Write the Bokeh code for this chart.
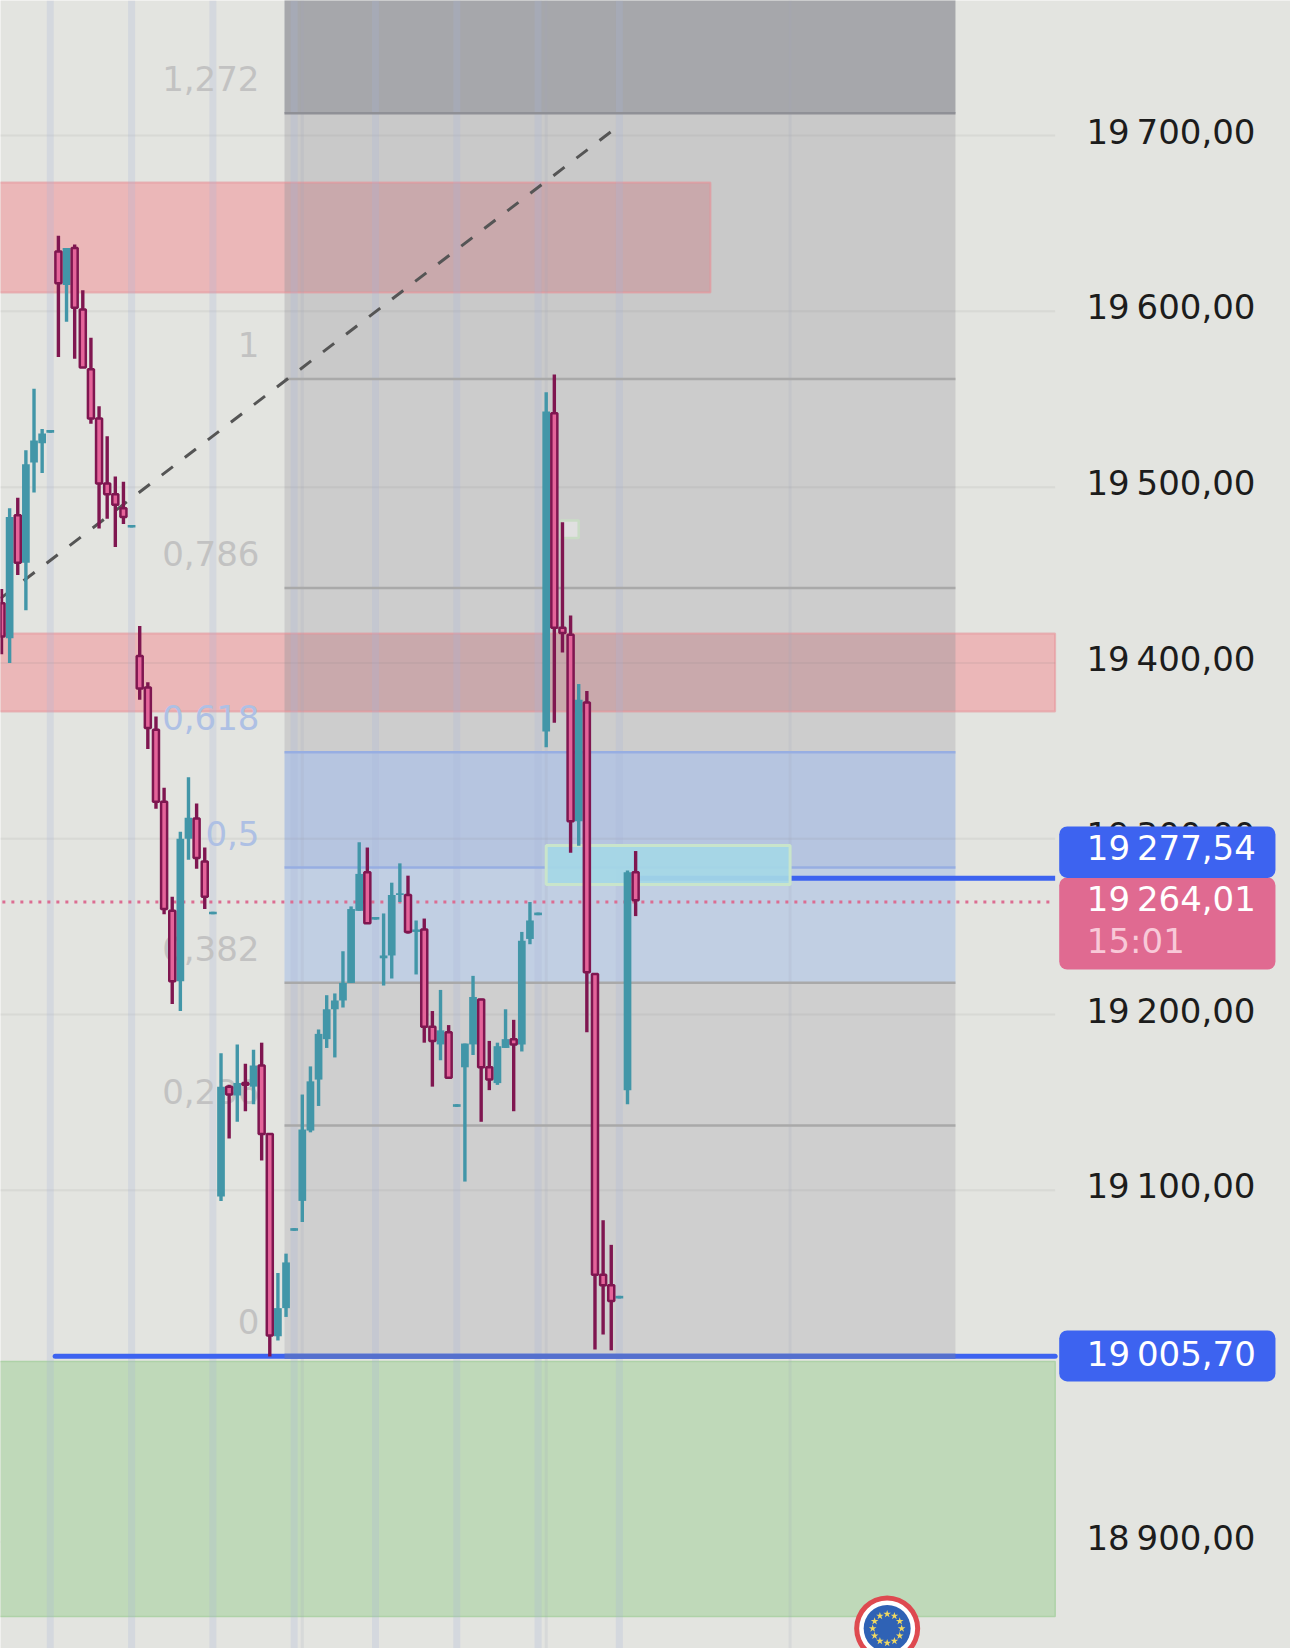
from bokeh.plotting import figure
from bokeh.models import Range1d, ColumnDataSource
from bokeh.core.properties import value
from bokeh.embed import file_html
from bokeh.resources import INLINE
import math

# ---- data ----
opens = [19434,19414,19484,19457,19514,19525,19531,19634,19615,19636,19601,19567,19539,19502,19496,19488,19477,
         19404,19386,19362,19321,19259,19219,19300,19311.5,19287,19257,19096.5,19159,19154,19161,19159,19171,19132,
         19017,19033,19077,19094,19134,19163,19186,19203,19208,19218,19259,19281,19254,19232,19233.6,19268,19268,
         19247,19248.4,19193,19183,19190,19147.5,19170,19183,19208.6,19170,19161,19181,19186,19183,19243,19256.5,
         19361,19542,19420,19416,19310,19377.5,19223,19052,19046,19038.5,19157,19281]
closes = [19415,19483,19457,19513,19526.5,19530.5,19532.5,19616,19636,19602,19568,19539,19502,19496,19490,19483,19478.5,
          19385.5,19363,19321,19260,19219,19300,19312,19289,19267,19258.5,19159,19154.5,19161,19160,19171,19132,19017.5,
          19033,19059,19078.5,19134.6,19162,19189,19203,19208,19218,19260,19280,19252,19255.5,19233.6,19268,19269,19247,
          19248.4,19193,19185,19191,19164,19149,19183.5,19210,19170,19163,19182,19186,19183,19242,19253.5,19258,
          19543,19420,19417,19310,19379,19224,19052,19046,19037,19040,19281,19265]
highs = [19442,19488,19494,19521,19556,19533,19532.5,19643,19636,19638,19612,19585,19546,19529,19506,19503,19478.5,
         19421,19389,19369.5,19329,19267,19304,19335,19320,19295,19258.5,19178,19160,19183,19172,19180,19184,19132,
         19053,19064,19078.5,19154.5,19170.5,19191.5,19211,19212,19236,19261.5,19298,19295,19255.5,19257.5,19275,19286,19279,
         19253.5,19254.6,19202,19214,19194,19149,19183.5,19222,19209,19185,19184,19203,19197,19247,19264,19258,
         19554,19564,19480,19427,19388,19384,19223,19083,19069,19040,19282,19293]
lows = [19405,19400,19450,19430,19497,19508,19531,19574,19594,19573,19568,19536,19476.5,19482,19466,19479,19477,
        19379,19351,19317,19257,19206,19202,19288,19283,19260,19257,19094,19129.5,19139,19145,19149,19117,19005.5,
        19014.6,19028,19077,19082,19133,19148,19181,19175.6,19204,19218,19259,19252,19254,19216.5,19220.5,19264,19246,
        19222.8,19184,19159,19174,19164,19147.5,19105,19177,19139,19157,19160,19181,19145,19179,19240,19256.5,
        19352,19366,19406,19292,19296,19190,19009.5,19018,19009,19038.5,19149,19256]

price_ticks = [19700,19600,19500,19400,19300,19200,19100,18900]
tick_labels = ["19\u202f700,00","19\u202f600,00","19\u202f500,00","19\u202f400,00","19\u202f300,00","19\u202f200,00","19\u202f100,00","18\u202f900,00"]
fib_low, fib_high = 19005.7, 19561.5
fib_levels = [0,0.236,0.382,0.5,0.618,0.786,1,1.272]
fib_texts = ["0","0,236","0,382","0,5","0,618","0,786","1","1,272"]
fib_text_cols = ["#c2c2c2","#c2c2c2","#c2c2c2","#aec0e4","#aec0e4","#c2c2c2","#c2c2c2","#c2c2c2"]
fib_line_cols = ["#5570cd","#a9a9a9","#a9a9a9","#97aee2","#97aee2","#a9a9a9","#a9a9a9","#8f9096"]
fib_band_cols = ["#cfcfcf","#cfcfcf","#c1cfe3","#b6c5e0","#cdcdcd","#cccccc","#c9c9c9","#a6a7ab"]
major_bars = [6,16,26,36,46,56,66,76]
minor_bars = [37,67,97]
last_blue, last_price = 19277.54, 19264.01

TOP, BOTTOM = 19776.8, 18839.4
XL, XR = -0.123, 158.55
FIB_L, FIB_R = 34.81, 117.34
RIGHT = 129.6
FONT = value("DejaVu Sans")

p = figure(width=1290, height=1648, output_backend="svg", toolbar_location=None,
           x_range=Range1d(XL, XR), y_range=Range1d(BOTTOM, TOP), min_border=0)
p.axis.visible = False
p.grid.visible = False
p.outline_line_color = None
p.background_fill_color = "#e3e4e0"
p.border_fill_color = "#e3e4e0"

# fibonacci bands
fib_prices = [fib_low + l*(fib_high-fib_low) for l in fib_levels]
tops = fib_prices[1:] + [TOP + 5]
p.quad(left=FIB_L, right=FIB_R, top=tops, bottom=fib_prices, fill_color=fib_band_cols, line_color=None)

# zones
zones = [(-1, 87.2, 19673.3, 19610.7), (-1, RIGHT, 19416.7, 19372.4)]
for l, r, t, b in zones:
    p.quad(left=[l], right=[r], top=[t], bottom=[b], fill_color="#ebb7b8", line_color=None)
    p.quad(left=[FIB_L], right=[min(r, FIB_R)], top=[t], bottom=[b], fill_color="#c9a9ac", line_color=None)
    p.quad(left=[l], right=[r], top=[t], bottom=[b], fill_alpha=0, line_color="#e88f98", line_alpha=0.55, line_width=2)

# price grid
p.segment(x0=-1, x1=RIGHT, y0=price_ticks, y1=price_ticks, line_color="#808080", line_alpha=0.11, line_width=2)
p.quad(left=[-1], right=[RIGHT], top=[19002.7], bottom=[18857.6], fill_color="#bfd9b9", line_color="#aed2a8", line_width=1.5)

# time separators
p.segment(x0=major_bars, x1=major_bars, y0=BOTTOM, y1=TOP, line_color="#a8b4d8", line_alpha=0.24, line_width=7)
p.segment(x0=minor_bars, x1=minor_bars, y0=BOTTOM, y1=TOP, line_color="#a0a8bc", line_alpha=0.18, line_width=3)

# fib level lines
p.segment(x0=FIB_L, x1=FIB_R, y0=fib_prices[1:], y1=fib_prices[1:], line_color=fib_line_cols[1:], line_width=2.5)

# level lines
p.line([6.6, RIGHT], [fib_low, fib_low], line_color="#3d63f0", line_width=5, line_cap="round")
p.line([FIB_L, FIB_R], [fib_low, fib_low], line_color="#5570cd", line_width=5)
p.line([78, RIGHT], [last_blue, last_blue], line_color="#3d63f0", line_width=5)

# trend line, last price
p.line([XL, 75.65], [19436.7, 19704.6], line_color="#555555", line_width=3, line_dash="14 15")
p.line([-1, RIGHT], [last_price, last_price], line_color="#dc6d92", line_width=3, line_dash="3 6")

# boxes
p.quad(left=[67], right=[97], top=[19296.2], bottom=[19274], fill_color="#a5d7e6", fill_alpha=0.93,
       line_color="#c9e5cb", line_width=3)
p.quad(left=[68.8], right=[71], top=[19481], bottom=[19471], fill_color="#e0e0e0", line_color="#c9dcc5", line_width=2.5)

# fib labels
p.text(x=31.73, y=fib_prices, text=fib_texts, text_color=fib_text_cols, text_font=FONT, text_font_size="34px",
       text_align="right", text_baseline="middle", y_offset=-34.5)

# candles
idx = list(range(len(opens)))
up = [c >= o for o, c in zip(opens, closes)]
u = ColumnDataSource(dict(x=[i for i in idx if up[i]], o=[opens[i] for i in idx if up[i]], c=[closes[i] for i in idx if up[i]],
                          h=[highs[i] for i in idx if up[i]], l=[lows[i] for i in idx if up[i]]))
d = ColumnDataSource(dict(x=[i for i in idx if not up[i]], o=[opens[i] for i in idx if not up[i]], c=[closes[i] for i in idx if not up[i]],
                          h=[highs[i] for i in idx if not up[i]], l=[lows[i] for i in idx if not up[i]]))
p.segment(x0="x", x1="x", y0="l", y1="h", source=u, line_color="#4296a8", line_width=3.4)
p.vbar(x="x", width=0.95, top="c", bottom="o", source=u, fill_color="#4296a8", line_color=None)
p.segment(x0="x", x1="x", y0="l", y1="h", source=d, line_color="#7f1650", line_width=3.4)
p.vbar(x="x", width=0.74, top="o", bottom="c", source=d, fill_color="#e4649a", line_color="#7f1650", line_width=2.5)

# price labels
p.text(x=154.24, y=price_ticks, text=tick_labels, text_color="#1c1c1c", text_font=FONT, text_font_size="34px",
       text_align="right", text_baseline="middle", y_offset=-4)

# tags
TAG_L, TAG_R = 130.1, 156.7
p.quad(left=[TAG_L], right=[TAG_R], top=[19278], bottom=[19225.6], fill_color="#e06a91", line_color=None, border_radius=8)
p.quad(left=[TAG_L], right=[TAG_R], top=[19307], bottom=[19277.7], fill_color="#3d63f0", line_color=None, border_radius=8)
p.quad(left=[TAG_L], right=[TAG_R], top=[19020.3], bottom=[18991.3], fill_color="#3d63f0", line_color=None, border_radius=8)
p.text(x=133.5, y=[last_blue], text=["19\u202f277,54"], text_color="#ffffff", text_font=FONT, text_font_size="34px",
       text_baseline="middle", y_offset=-30.4)
p.text(x=133.5, y=[last_price], text=["19\u202f264,01"], text_color="#ffffff", text_font=FONT, text_font_size="34px",
       text_baseline="middle", y_offset=-3)
p.text(x=133.5, y=[last_price], text=["15:01"], text_color="#f8c9d8", text_font=FONT, text_font_size="34px",
       text_baseline="middle", y_offset=39)
p.text(x=133.5, y=[fib_low], text=["19\u202f005,70"], text_color="#ffffff", text_font=FONT, text_font_size="34px",
       text_baseline="middle", y_offset=-2)

# EU badge
bx, by = 108.94, 18850.8
p.scatter([bx], [by], marker="circle", size=66, fill_color="#de4a50", line_color=None)
p.scatter([bx], [by], marker="circle", size=56, fill_color="#ffffff", line_color=None)
p.scatter([bx], [by], marker="circle", size=47, fill_color="#2f62b5", line_color=None)
sx = [bx + 14.5/8.13*math.cos(math.radians(a)) for a in range(0, 360, 30)]
sy = [by + 14.5*0.5688*math.sin(math.radians(a)) for a in range(0, 360, 30)]
p.scatter(sx, sy, marker="star", size=8, fill_color="#f0d860", line_color=None)

open("out.html", "w").write(file_html(p, INLINE))
